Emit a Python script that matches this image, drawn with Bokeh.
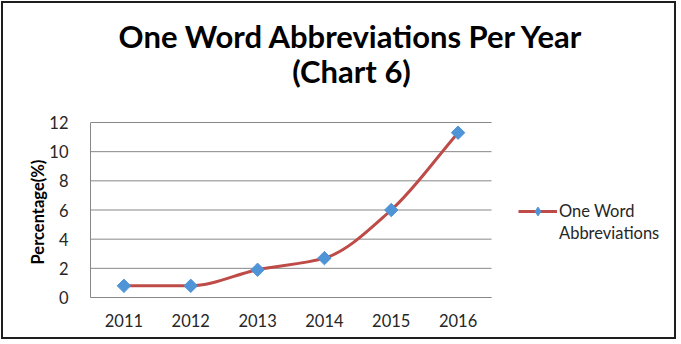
import numpy as np
from bokeh.plotting import figure
from bokeh.models import Range1d, FixedTicker, Legend, LegendItem, Label, Title
from bokeh.embed import file_html
from bokeh.resources import INLINE

# --- data -------------------------------------------------------------
years = ["2011", "2012", "2013", "2014", "2015", "2016"]
percent = [0.8, 0.8, 1.9, 2.7, 6.0, 11.3]
y_ticks = [0, 2, 4, 6, 8, 10, 12]
title_lines = ["One Word Abbreviations Per Year", "(Chart 6)"]
y_label = "Percentage(%)"
legend_lines = ["One Word", "Abbreviations"]

FONT = "Lato"
LINE_RED = "#BE4B48"
MARKER_BLUE = "#4F94D6"
GRID = "#878787"
TEXT = "#262626"

# --- layout (pixels in the page) ---------------------------------------
PAGE_W, PAGE_H = 681, 344
EDGE = 3                       # CSS margin + border round the canvas
PLOT_L, PLOT_R = 90, 491       # plotted area of the series
PLOT_T, PLOT_B = 122, 297
Y_MAX = y_ticks[-1]
n_cat = len(years)

W, H = PAGE_W - 2 * EDGE, PAGE_H - 2 * EDGE
frame_w = W - (PLOT_L - EDGE)
frame_h = PLOT_B - EDGE
px_per_x = (PLOT_R - PLOT_L) / n_cat
px_per_y = (PLOT_B - PLOT_T) / Y_MAX

p = figure(width=W, height=H,
           x_range=Range1d(0, frame_w / px_per_x),
           y_range=Range1d(0, frame_h / px_per_y),
           output_backend="svg", toolbar_location=None,
           min_border_left=PLOT_L - EDGE, min_border_right=0,
           min_border_top=0, min_border_bottom=H - frame_h)
p.styles = {"margin": "1px", "border": "2px solid #1e1e1e"}
p.outline_line_color = None
p.background_fill_color = "white"
p.border_fill_color = "white"
p.xgrid.grid_line_color = None
p.ygrid.grid_line_color = None

x_pos = [i + 0.5 for i in range(n_cat)]

# axes
p.yaxis.ticker = FixedTicker(ticks=y_ticks)
p.yaxis.bounds = (0, Y_MAX)
p.xaxis.ticker = FixedTicker(ticks=x_pos)
p.xaxis.major_label_overrides = {x: y for x, y in zip(x_pos, years)}
p.xaxis.bounds = (0, n_cat)
for ax in (p.xaxis, p.yaxis):
    ax.axis_line_color = GRID
    ax.major_tick_line_color = None
    ax.minor_tick_line_color = None
    ax.major_label_text_font = FONT
    ax.major_label_text_font_size = "16.5px"
    ax.major_label_text_color = TEXT
p.yaxis.major_label_standoff = 16
p.xaxis.major_label_standoff = 10

# vertical axis title, centred on the 0..12 span
p.add_layout(Title(text=y_label, align="left", vertical_align="bottom",
                   offset=33, standoff=-3,
                   text_font=FONT, text_font_style="bold", text_font_size="16.5px",
                   text_color="black"), "left")

# horizontal gridlines over the category span
p.segment(x0=[0] * len(y_ticks), x1=[n_cat] * len(y_ticks), y0=y_ticks, y1=y_ticks,
          line_color=GRID, line_width=1)

# smoothed series line: monotone cubic Bezier segments through the points
xs = np.array(x_pos)
ys = np.array(percent, dtype=float)
n = len(xs)
slopes = np.diff(ys) / np.diff(xs)
tang = np.zeros(n)
tang[0], tang[-1] = slopes[0], slopes[-1]
for i in range(1, n - 1):
    a, b = slopes[i - 1], slopes[i]
    tang[i] = 2 * a * b / (a + b) if a * b > 0 else 0.0
h = np.diff(xs)
curve = p.bezier(x0=xs[:-1], y0=ys[:-1], x1=xs[1:], y1=ys[1:],
                 cx0=xs[:-1] + h / 3, cy0=ys[:-1] + tang[:-1] * h / 3,
                 cx1=xs[1:] - h / 3, cy1=ys[1:] - tang[1:] * h / 3,
                 line_color=LINE_RED, line_width=3)
pts = p.scatter(x=x_pos, y=percent, marker="square", size=9.5, angle=np.pi / 4,
                fill_color=MARKER_BLUE, line_color=MARKER_BLUE)
# diamond key used only by the legend entry
key = p.scatter(x=x_pos, y=percent, marker="diamond", fill_color=MARKER_BLUE,
                line_color=MARKER_BLUE, visible=False)

legend = Legend(items=[LegendItem(label=legend_lines[0], renderers=[curve, key]),
                       LegendItem(label=legend_lines[1], renderers=[])],
                location=(518 - PLOT_L, PLOT_B - 244), orientation="vertical",
                border_line_color=None, background_fill_alpha=0,
                inactive_fill_alpha=0,
                padding=0, margin=0, spacing=0,
                glyph_width=39, glyph_height=22, label_standoff=2,
                label_height=18,
                label_text_font=FONT, label_text_font_size="16.5px",
                label_text_color=TEXT)
p.add_layout(legend)

# two-line title
for text, base in ((title_lines[0], 35), (title_lines[1], 70)):
    p.add_layout(Label(x=351 - PLOT_L, y=PLOT_B - base, x_units="screen", y_units="screen",
                       text=text, text_align="center", text_baseline="alphabetic",
                       text_font=FONT, text_font_style="bold", text_font_size="31px",
                       text_color="black"))

open("out.html", "w").write(file_html(p, INLINE))
